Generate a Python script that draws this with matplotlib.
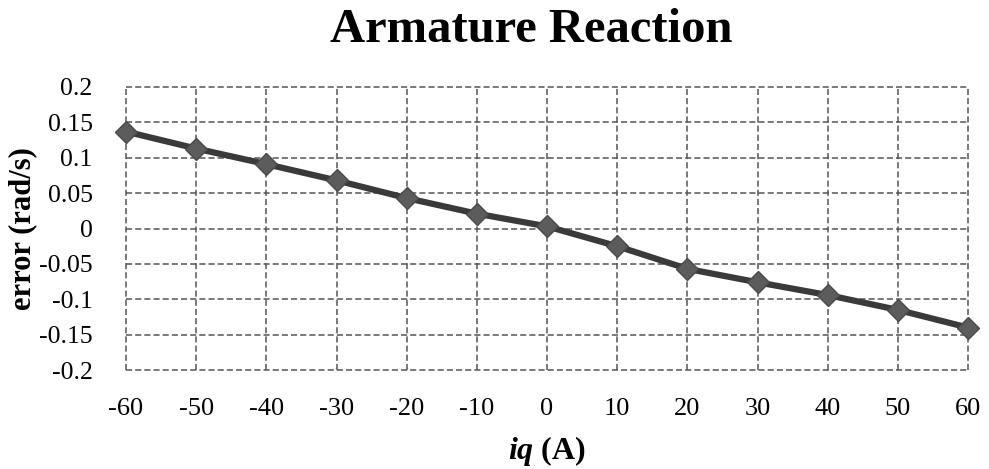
import matplotlib
matplotlib.use('Agg')
import matplotlib.pyplot as plt
import numpy as np

# Armature reaction speed error vs iq
iq = [-60, -50, -40, -30, -20, -10, 0, 10, 20, 30, 40, 50, 60]
error = [0.137, 0.113, 0.091, 0.068, 0.043, 0.021, 0.003, -0.025, -0.057, -0.076, -0.094, -0.115, -0.140]
yticks = [0.2, 0.15, 0.1, 0.05, 0, -0.05, -0.1, -0.15, -0.2]
ytick_labels = ['0.2', '0.15', '0.1', '0.05', '0', '-0.05', '-0.1', '-0.15', '-0.2']

plt.rcParams["font.family"] = "Liberation Serif"
plt.rcParams["font.size"] = 19
plt.rcParams["mathtext.fontset"] = "custom"
plt.rcParams["mathtext.rm"] = "Liberation Serif"
plt.rcParams["mathtext.bfit"] = "Liberation Serif:italic:bold"

fig = plt.figure(figsize=(9.89, 4.69), dpi=100)
ax = fig.add_axes([0.1274, 0.211, 0.8514, 0.6035])

ax.plot(iq, error, color='#3a3a3a', linewidth=4.5, marker='D', markersize=11,
        markerfacecolor='#5c5c5c', markeredgecolor='#4a4a4a', zorder=3, clip_on=False)

ax.set_xlim(-60, 60)
ax.set_ylim(-0.2, 0.2)
ax.set_xticks(iq)
ax.set_xticklabels([str(v) for v in iq])
ax.set_yticks(yticks)
ax.set_yticklabels(ytick_labels, fontsize=18.5)
ax.tick_params(axis='y', length=0, pad=24)
ax.tick_params(axis='x', length=0, pad=20)

for s in ax.spines.values():
    s.set_visible(False)
ax.grid(True, color='#555555', linestyle=(0, (4, 2)), linewidth=1.1, clip_on=False)

ax.set_ylabel("error (rad/s)", fontweight='bold', fontsize=22, labelpad=1)
ax.set_xlabel(r"$\mathbfit{iq}$ (A)", fontweight='bold', fontsize=23, labelpad=10)
fig.text(0.537, 0.936, "Armature Reaction", fontweight='bold', fontsize=35,
         ha='center', va='center')

plt.savefig('out.png', dpi=100)
